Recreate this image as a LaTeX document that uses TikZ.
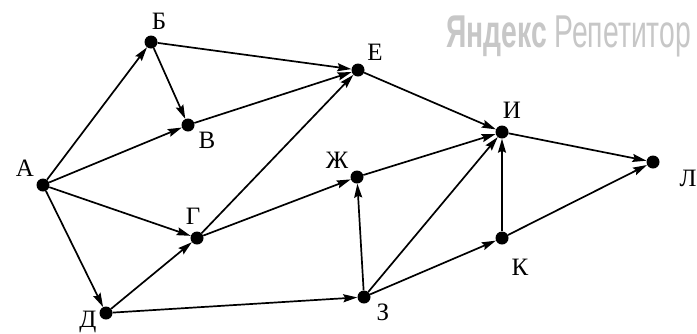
\documentclass[tikz,border=0pt]{standalone}
\usepackage{fontspec}
\setmainfont{Liberation Serif}
\newfontfamily\wmfont{Liberation Sans}
\usetikzlibrary{arrows.meta}
\tikzset{
  vtx/.style={circle,fill=black,inner sep=0pt,minimum size=13pt},
  lbl/.style={inner sep=0pt,font=\fontsize{25}{25}\selectfont},
  edge/.style={line width=1.7pt,-{Stealth[length=14pt,width=8pt,inset=2pt]}}
}
\begin{document}
\begin{tikzpicture}[x=1pt,y=-1pt]
\useasboundingbox (0,0) rectangle (697,333);
\fill[white] (0,0) rectangle (697,333);
% watermark
\node[anchor=base west,inner sep=0pt,text=black!22,font=\wmfont\fontsize{46}{46}\selectfont,xscale=0.615] (wm) at (446,47) {\textbf{Яндекс} Репетитор};
% vertices
\node[vtx] (A) at (43,185) {};
\node[vtx] (B) at (151,42) {};
\node[vtx] (V) at (188,125) {};
\node[vtx] (E) at (358,70) {};
\node[vtx] (G) at (197,238) {};
\node[vtx] (Zh) at (357,177) {};
\node[vtx] (I) at (502,132) {};
\node[vtx] (L) at (653,162) {};
\node[vtx] (K) at (502,238) {};
\node[vtx] (D) at (106,313) {};
\node[vtx] (Z) at (364,297) {};
% labels
\node[lbl] (lA) at (25,168) {А};
\node[lbl] (lB) at (159,21) {Б};
\node[lbl] (lV) at (207,140) {В};
\node[lbl] (lE) at (375,52) {Е};
\node[lbl] (lG) at (193,216) {Г};
\node[lbl] (lZh) at (337,160) {Ж};
\node[lbl] (lI) at (512,110) {И};
\node[lbl] (lL) at (688,178) {Л};
\node[lbl] (lK) at (520,267) {К};
\node[lbl] (lD) at (88,322) {Д};
\node[lbl] (lZ) at (383,312) {З};
% edges
\draw[edge] (A) -- (B);
\draw[edge] (A) -- (V);
\draw[edge] (A) -- (G);
\draw[edge] (A) -- (D);
\draw[edge] (B) -- (E);
\draw[edge] (B) -- (V);
\draw[edge] (V) -- (E);
\draw[edge] (G) -- (E);
\draw[edge] (G) -- (Zh);
\draw[edge] (D) -- (G);
\draw[edge] (D) -- (Z);
\draw[edge] (E) -- (I);
\draw[edge] (Zh) -- (I);
\draw[edge] (Z) -- (Zh);
\draw[edge] (Z) -- (I);
\draw[edge] (Z) -- (K);
\draw[edge] (K) -- (I);
\draw[edge] (K) -- (L);
\draw[edge] (I) -- (L);
\end{tikzpicture}
\end{document}
